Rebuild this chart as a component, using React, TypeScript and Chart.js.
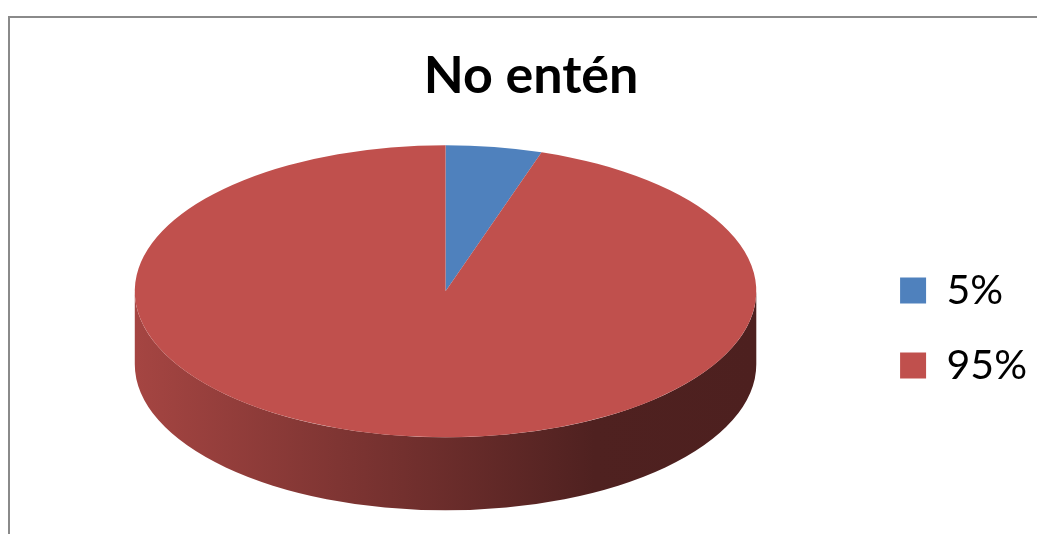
import React, { useEffect, useRef } from 'react';
import { Chart, registerables } from 'chart.js';

Chart.register(...registerables);

const categories = ['5%', '95%'];
const values = [5, 95];
const sliceColors = ['#4F81BD', '#C0504D'];
const chartTitle = 'No entén';

function shade(hex: string, f: number): string {
  const n = parseInt(hex.slice(1), 16);
  const r = Math.round(((n >> 16) & 255) * f);
  const g = Math.round(((n >> 8) & 255) * f);
  const b = Math.round((n & 255) * f);
  return `rgb(${r},${g},${b})`;
}

const pie3d = {
  id: 'pie3d',
  beforeDatasetsDraw(chart: any, _args: any, opts: any) {
    const meta = chart.getDatasetMeta(0);
    if (!meta.data.length) return;
    const first = meta.data[0];
    const { x, y, outerRadius } = first.getProps(['x', 'y', 'outerRadius']);
    const rx = outerRadius * opts.stretch;
    const ry = rx * opts.tilt;
    const cy = y - opts.lift;
    const depth = rx * opts.depth;
    const ctx = chart.ctx as CanvasRenderingContext2D;
    ctx.save();
    meta.data.forEach((arc: any, i: number) => {
      const { startAngle, endAngle } = arc.getProps(['startAngle', 'endAngle']);
      const base = sliceColors[i % sliceColors.length];
      for (const k of [-1, 0, 1]) {
        const s = Math.max(startAngle, 2 * Math.PI * k);
        const e = Math.min(endAngle, Math.PI + 2 * Math.PI * k);
        if (e > s) {
          ctx.beginPath();
          ctx.ellipse(x, cy, rx, ry, 0, s, e);
          ctx.ellipse(x, cy + depth, rx, ry, 0, e, s, true);
          ctx.closePath();
          const grad = ctx.createLinearGradient(x - rx, 0, x + rx, 0);
          grad.addColorStop(0, shade(base, 0.86));
          grad.addColorStop(0.74, shade(base, 0.41));
          grad.addColorStop(1, shade(base, 0.40));
          ctx.fillStyle = grad;
          ctx.fill();
        }
      }
    });
    ctx.restore();
    ctx.save();
    ctx.translate(x, cy);
    ctx.scale(rx / outerRadius, ry / outerRadius);
    ctx.translate(-x, -y);
  },
  afterDatasetsDraw(chart: any) {
    const meta = chart.getDatasetMeta(0);
    if (!meta.data.length) return;
    chart.ctx.restore();
  },
};

export default function App() {
  const canvasRef = useRef<HTMLCanvasElement | null>(null);

  useEffect(() => {
    if (!canvasRef.current) return;
    const chart = new Chart(canvasRef.current, {
      type: 'pie',
      data: {
        labels: categories,
        datasets: [
          {
            data: values,
            backgroundColor: sliceColors,
            borderWidth: 0,
          },
        ],
      },
      plugins: [pie3d as any],
      options: {
        responsive: false,
        animation: false,
        events: [],
        layout: { padding: { left: 25, right: 0, top: 0, bottom: 0 } },
        plugins: {
          pie3d: { stretch: 1.51, tilt: 0.47, depth: 0.235, lift: 37 },
          title: {
            display: true,
            text: chartTitle,
            color: '#000000',
            font: { family: 'Lato', size: 52, weight: 'bold' },
            padding: { top: 45, bottom: 15 },
          },
          legend: {
            position: 'right',
            title: {
              display: true,
              text: ' ',
              font: { family: 'Lato', size: 10 },
              padding: { top: 0, bottom: 110 },
            },
            labels: {
              color: '#000000',
              font: { family: 'Lato', size: 41 },
              boxWidth: 26,
              boxHeight: 26,
              padding: 34,
            },
          },
          tooltip: { enabled: false },
        },
      } as any,
    });
    return () => chart.destroy();
  }, []);

  return (
    <div style={{ position: 'fixed', left: 0, top: 0, width: 1037, height: 534, overflow: 'hidden', background: '#ffffff' }}>
      <div
        style={{
          position: 'absolute',
          left: 8,
          top: 16,
          width: 1200,
          height: 700,
          border: '2px solid #8a8a8a',
          boxSizing: 'border-box',
        }}
      />
      <canvas
        ref={canvasRef}
        width={1037}
        height={534}
        style={{ position: 'absolute', left: 0, top: 0, display: 'block' }}
      />
    </div>
  );
}
